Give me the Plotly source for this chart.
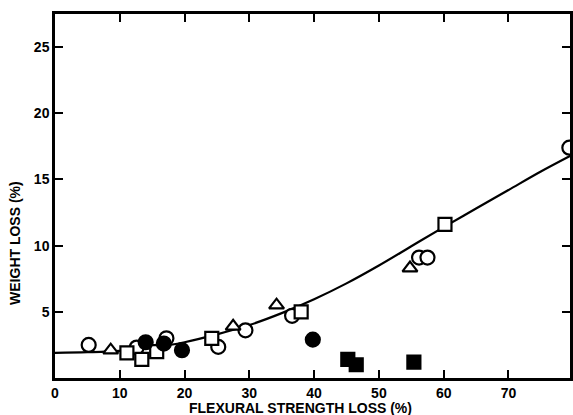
import plotly.graph_objects as go

# Data
open_circle_x = [5.2, 12.6, 17.2, 25.2, 29.4, 36.6, 56.2, 57.5, 79.4]
open_circle_y = [2.5, 2.3, 3.0, 2.35, 3.6, 4.7, 9.1, 9.1, 17.4]

open_triangle_x = [8.6, 27.5, 34.2, 54.8]
open_triangle_y = [2.1, 3.9, 5.5, 8.3]

open_square_x = [11.1, 13.4, 15.7, 24.2, 38.0, 60.2]
open_square_y = [1.9, 1.4, 2.0, 3.0, 5.0, 11.6]

filled_circle_x = [14.0, 16.8, 19.6, 39.8]
filled_circle_y = [2.7, 2.6, 2.1, 2.9]

filled_square_x = [45.2, 46.5, 55.4]
filled_square_y = [1.4, 1.0, 1.2]

curve_x = [0, 5, 10, 15, 20, 25, 30, 35, 40, 45, 50, 55, 60, 65, 70, 75, 80]
curve_y = [1.9, 1.95, 2.05, 2.3, 2.7, 3.3, 4.0, 4.9, 5.95, 7.15, 8.5, 9.95, 11.4, 12.8, 14.2, 15.6, 16.9]

x_ticks = [0, 10, 20, 30, 40, 50, 60, 70]
y_ticks = [5, 10, 15, 20, 25]

fig = go.Figure()

fig.add_trace(go.Scatter(x=curve_x, y=curve_y, mode="lines",
                         line=dict(color="black", width=2.2, shape="spline", smoothing=1),
                         showlegend=False, hoverinfo="skip"))

def add_pts(xs, ys, symbol, size, filled):
    fig.add_trace(go.Scatter(
        x=xs, y=ys, mode="markers", showlegend=False,
        marker=dict(symbol=symbol, size=size,
                    color="black" if filled else "white",
                    line=dict(color="black", width=2.2))))

add_pts(open_circle_x, open_circle_y, "circle", 14, False)
add_pts(open_triangle_x, open_triangle_y, "triangle-up", 13, False)
add_pts(open_square_x, open_square_y, "square", 13, False)
add_pts(filled_circle_x, filled_circle_y, "circle", 14, True)
add_pts(filled_square_x, filled_square_y, "square", 13, True)

tick_font = dict(family="Liberation Sans", size=14, color="black", weight="bold")

fig.update_xaxes(range=[0, 79.5], tickvals=x_ticks, ticktext=[str(v) for v in x_ticks],
                 showline=True, linecolor="black", linewidth=2.5, mirror="ticks",
                 ticks="inside", ticklen=8, tickwidth=2, tickcolor="black",
                 showgrid=False, zeroline=False, tickfont=tick_font)
fig.update_yaxes(range=[0, 27.5], tickvals=y_ticks, ticktext=[str(v) for v in y_ticks],
                 showline=True, linecolor="black", linewidth=2.5, mirror="ticks",
                 ticks="inside", ticklen=8, tickwidth=2, tickcolor="black",
                 showgrid=False, zeroline=False, tickfont=tick_font)

title_font = dict(family="Liberation Sans", size=14, color="black", weight="bold")

fig.update_layout(
    width=573, height=415,
    margin=dict(l=55, r=0, t=14, b=37),
    paper_bgcolor="white", plot_bgcolor="white",
    annotations=[
        dict(text="FLEXURAL STRENGTH LOSS (%)", xref="paper", yref="paper",
             x=0.477, y=0, yanchor="middle", xanchor="center", yshift=-30,
             showarrow=False, font=title_font),
        dict(text="WEIGHT LOSS (%)", xref="paper", yref="paper",
             x=0, y=0.371, xanchor="center", yanchor="middle", xshift=-40,
             textangle=-90, showarrow=False, font=title_font),
    ],
)

fig.write_html("out.html")
